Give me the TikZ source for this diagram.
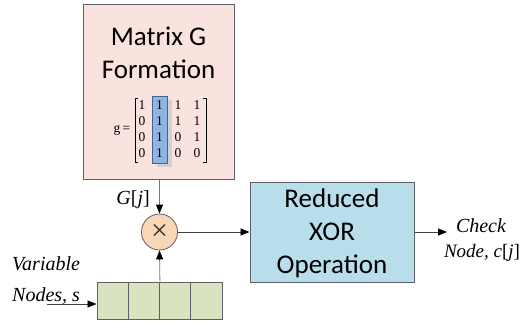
\documentclass[tikz,border=0pt]{standalone}
\usepackage{fontspec}
\setmainfont{Liberation Serif}
\newfontfamily\calibri{Carlito}
\usetikzlibrary{arrows.meta}
\definecolor{pinkfill}{RGB}{250,226,222}
\definecolor{bluefill}{RGB}{183,222,234}
\definecolor{peach}{RGB}{251,214,182}
\definecolor{greenfill}{RGB}{216,228,192}
\definecolor{hilite}{RGB}{141,180,226}
\definecolor{hiedge}{RGB}{70,100,140}
\definecolor{edge}{RGB}{95,95,105}
\definecolor{wire}{RGB}{120,120,120}
\begin{document}
\begin{tikzpicture}[x=1pt,y=-1pt,
  box/.style={draw=edge, line width=1pt, inner sep=0},
  arr/.style={-{Triangle[length=9pt,width=7pt,color=black]}, line width=0.8pt},
  big/.style={font=\calibri\fontsize{27}{30}\selectfont, anchor=base, inner sep=0},
  lbl/.style={font=\fontsize{20}{22}\selectfont\itshape, anchor=base, inner sep=0},
  num/.style={font=\fontsize{13.5}{13.5}\selectfont, inner sep=0},
  cellbox/.style={draw=edge, line width=0.8pt, fill=greenfill, minimum width=31.25pt, minimum height=37pt, inner sep=0}]
\useasboundingbox (0,0) rectangle (523,322);
% Matrix G formation box
\node[box, fill=pinkfill, minimum width=151pt, minimum height=175pt, anchor=north west] (G) at (83,4) {};
\node[big] (gt1) at (158.5,45) {Matrix G};
\node[big] (gt2) at (158.5,78) {Formation};
% highlighted column with shadow
\node[fill=black!18, minimum width=15pt, minimum height=67pt, inner sep=0] (hls) at (164.5,133.5) {};
\node[fill=hilite, draw=hiedge, line width=0.7pt, minimum width=15pt, minimum height=67pt, inner sep=0] (hl) at (159.5,129.5) {};
% brackets
\draw[line width=0.6pt] (138,98) -- (135,98) -- (135,162) -- (138,162);
\draw[line width=0.6pt] (203,98) -- (206,98) -- (206,162) -- (203,162);
\node[num] (geq) at (122,130) {g\,=};
\node[num] (m11) at (142,105) {1};
\node[num] (m12) at (159.5,105) {1};
\node[num] (m13) at (178,105) {1};
\node[num] (m14) at (197,105) {1};
\node[num] (m21) at (142,121) {0};
\node[num] (m22) at (159.5,121) {1};
\node[num] (m23) at (178,121) {1};
\node[num] (m24) at (197,121) {1};
\node[num] (m31) at (142,137) {0};
\node[num] (m32) at (159.5,137) {1};
\node[num] (m33) at (178,137) {0};
\node[num] (m34) at (197,137) {1};
\node[num] (m41) at (142,153) {0};
\node[num] (m42) at (159.5,153) {1};
\node[num] (m43) at (178,153) {0};
\node[num] (m44) at (197,153) {0};
% multiplier
\node[circle, draw=edge, line width=0.8pt, fill=peach, minimum size=36pt, inner sep=0] (mul) at (159.5,232) {};
\node[font=\fontsize{30}{30}\selectfont, inner sep=0, text=black!80] (mulsym) at (mul.center) {×};
% XOR box
\node[box, fill=bluefill, minimum width=164pt, minimum height=100pt] (xor) at (332,232) {};
\node[big] (x1) at (332,207.5) {Reduced};
\node[big] (x2) at (332,240.5) {XOR};
\node[big] (x3) at (332,273.5) {Operation};
% variable node register
\node[cellbox] (c1) at (112.6,300.5) {};
\node[cellbox] (c2) at (143.9,300.5) {};
\node[cellbox] (c3) at (175.1,300.5) {};
\node[cellbox] (c4) at (206.4,300.5) {};
% labels
\node[lbl, anchor=base east] (gj) at (150,204) {G\textup{[}j\textup{]}};
\node[lbl, anchor=base west] (v1) at (12,270) {Variable};
\node[lbl, anchor=base west] (v2) at (12,301) {Nodes, s};
\node[lbl] (o1) at (481,232) {Check};
\node[lbl, font=\fontsize{19}{22}\selectfont\itshape] (o2) at (482,257) {Node, c\textup{[}j\textup{]}};
% connectors
\coordinate (vin) at (47,304);
\coordinate (out) at (447,232);
\draw[arr, wire] (mul |- G.south) -- (mul.north);
\draw[arr, black!75] (mul.east) -- (xor.west);
\draw[arr, wire] (c2.north east) -- (mul.south);
\draw[arr, black!75] (vin) -- (c1.west |- vin);
\draw[arr, black!75] (xor.east) -- (out);
\end{tikzpicture}
\end{document}
